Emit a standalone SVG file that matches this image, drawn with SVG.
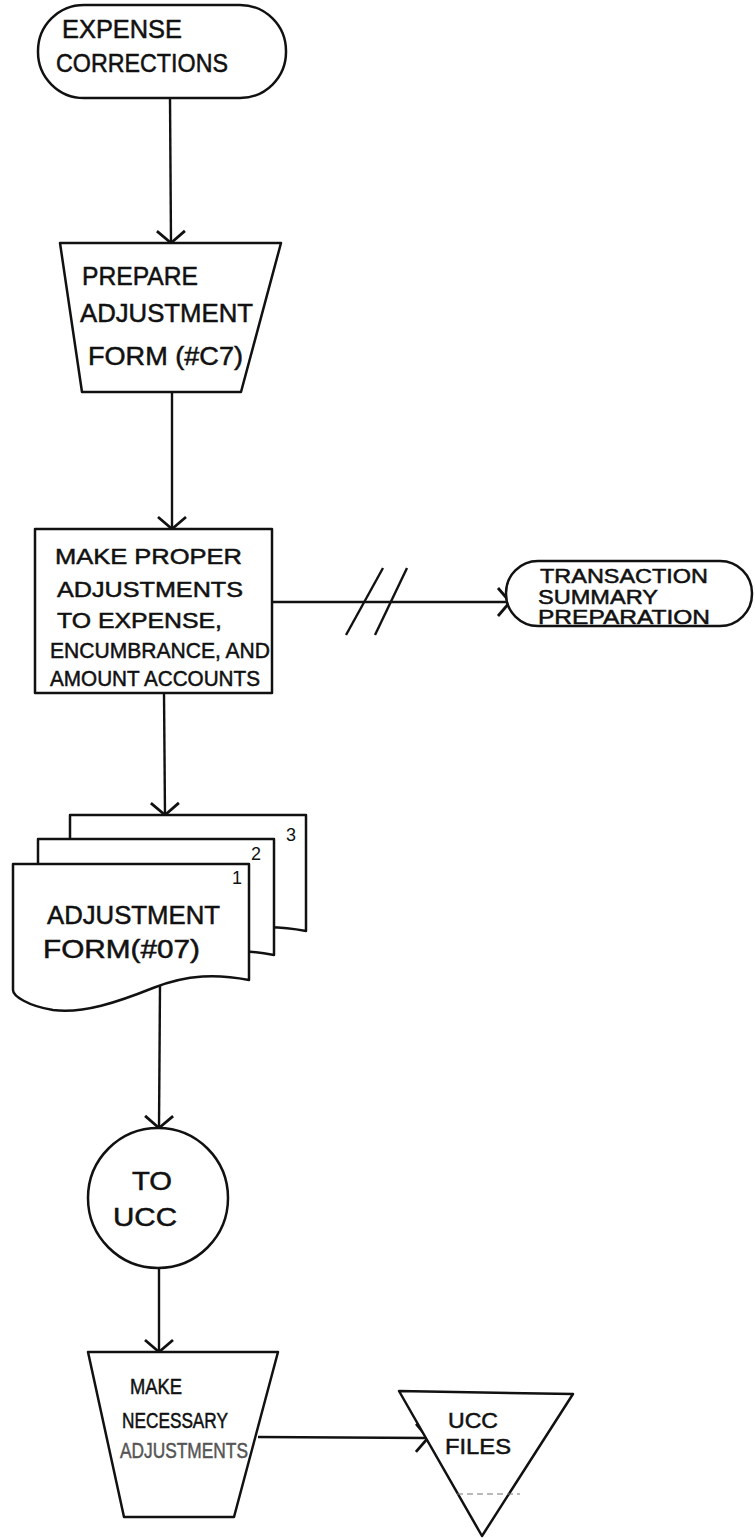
<svg xmlns="http://www.w3.org/2000/svg" width="755" height="1538" viewBox="0 0 755 1538">
  <style>
    .shape { fill: #ffffff; stroke: #111111; stroke-width: 2.5; stroke-linejoin: round; }
    .line { fill: none; stroke: #111111; stroke-width: 2.4; }
    .lbl { font-family: "Liberation Sans", "DejaVu Sans", sans-serif; fill: #111111; stroke: #111111; stroke-width: 0.5; }
    .big { font-size: 25px; }
    .mid { font-size: 22px; }
    .num { font-family: "Liberation Sans", sans-serif; font-size: 18px; fill: #111111; }
    .faint { fill: #555555; stroke: #555555; }
  </style>
  <defs>
    <!-- open "V" arrowhead drawn as two strokes -->
    <marker id="vhead" markerUnits="userSpaceOnUse" markerWidth="32" markerHeight="32" viewBox="-16 -16 32 32" refX="0" refY="0" orient="auto" overflow="visible">
      <path d="M-12,-14 L0,0 L-12,14" fill="none" stroke="#111111" stroke-width="2.8"/>
    </marker>
    <!-- document sheet with wavy lower edge -->
    <path id="sheet" d="M0,0 H236 V116 C205,110 175,110 140,124 C105,138 70,150 40,146 C15,142 0,132 0,126 Z"/>
  </defs>

  <!-- connectors -->
  <g id="connectors">
    <line class="line" x1="170" y1="98" x2="171" y2="243" marker-end="url(#vhead)"/>
    <line class="line" x1="172" y1="392" x2="172" y2="529" marker-end="url(#vhead)"/>
    <line class="line" x1="272" y1="602" x2="510" y2="602" marker-end="url(#vhead)"/>
    <line class="line" x1="346" y1="635" x2="383" y2="568"/>
    <line class="line" x1="375" y1="635" x2="407" y2="568"/>
    <line class="line" x1="164" y1="693" x2="165" y2="815" marker-end="url(#vhead)"/>
    <line class="line" x1="160" y1="986" x2="159" y2="1128" marker-end="url(#vhead)"/>
    <line class="line" x1="159" y1="1268" x2="159" y2="1352" marker-end="url(#vhead)"/>
    <line class="line" x1="258" y1="1437" x2="428" y2="1438" marker-end="url(#vhead)"/>
  </g>

  <!-- start terminal -->
  <g id="expense-corrections">
    <rect class="shape" x="38" y="5" width="248" height="93" rx="46" ry="46"/>
    <text class="lbl big" x="62" y="38" textLength="120" lengthAdjust="spacingAndGlyphs">EXPENSE</text>
    <text class="lbl big" x="56" y="72" textLength="172" lengthAdjust="spacingAndGlyphs">CORRECTIONS</text>
  </g>

  <!-- manual operation -->
  <g id="prepare-adjustment-form">
    <polygon class="shape" points="60,243 281,243 241,392 82,392"/>
    <text class="lbl big" x="82" y="285" textLength="116" lengthAdjust="spacingAndGlyphs">PREPARE</text>
    <text class="lbl big" x="80" y="322" textLength="173" lengthAdjust="spacingAndGlyphs">ADJUSTMENT</text>
    <text class="lbl big" x="88" y="365" textLength="155" lengthAdjust="spacingAndGlyphs">FORM (#C7)</text>
  </g>

  <!-- process -->
  <g id="make-proper-adjustments">
    <rect class="shape" x="35" y="529" width="237" height="164"/>
    <text class="lbl mid" x="55" y="564" textLength="187" lengthAdjust="spacingAndGlyphs">MAKE PROPER</text>
    <text class="lbl mid" x="57" y="597" textLength="186" lengthAdjust="spacingAndGlyphs">ADJUSTMENTS</text>
    <text class="lbl mid" x="57" y="628" textLength="165" lengthAdjust="spacingAndGlyphs">TO EXPENSE,</text>
    <text class="lbl mid" x="50" y="658" textLength="220" lengthAdjust="spacingAndGlyphs">ENCUMBRANCE, AND</text>
    <text class="lbl mid" x="50" y="686" textLength="210" lengthAdjust="spacingAndGlyphs">AMOUNT ACCOUNTS</text>
  </g>

  <!-- off-page terminal -->
  <g id="transaction-summary-preparation">
    <rect class="shape" x="506" y="561" width="246" height="65" rx="32" ry="32"/>
    <text class="lbl" font-size="20" x="540" y="583" textLength="168" lengthAdjust="spacingAndGlyphs">TRANSACTION</text>
    <text class="lbl" font-size="20" x="538" y="604" textLength="120" lengthAdjust="spacingAndGlyphs">SUMMARY</text>
    <text class="lbl" font-size="20" x="538" y="624" textLength="172" lengthAdjust="spacingAndGlyphs">PREPARATION</text>
  </g>

  <!-- three-part form -->
  <g id="adjustment-form-copies">
    <use href="#sheet" class="shape" transform="translate(70,815)"/>
    <use href="#sheet" class="shape" transform="translate(38,839)"/>
    <use href="#sheet" class="shape" transform="translate(13,864)"/>
    <text class="num" x="286" y="841">3</text>
    <text class="num" x="251" y="860">2</text>
    <text class="num" x="232" y="884">1</text>
    <text class="lbl big" x="47" y="924" textLength="173" lengthAdjust="spacingAndGlyphs">ADJUSTMENT</text>
    <text class="lbl big" x="43" y="958" textLength="157" lengthAdjust="spacingAndGlyphs">FORM(#07)</text>
  </g>

  <!-- connector circle -->
  <g id="to-ucc">
    <circle class="shape" cx="158" cy="1198" r="70"/>
    <text class="lbl big" x="132" y="1190" textLength="40" lengthAdjust="spacingAndGlyphs">TO</text>
    <text class="lbl big" x="113" y="1226" textLength="64" lengthAdjust="spacingAndGlyphs">UCC</text>
  </g>

  <!-- manual operation -->
  <g id="make-necessary-adjustments">
    <polygon class="shape" points="88,1352 278,1352 234,1517 124,1517"/>
    <text class="lbl mid" x="130" y="1394" textLength="52" lengthAdjust="spacingAndGlyphs">MAKE</text>
    <text class="lbl mid" x="122" y="1428" textLength="106" lengthAdjust="spacingAndGlyphs">NECESSARY</text>
    <text class="lbl mid faint" x="120" y="1458" textLength="128" lengthAdjust="spacingAndGlyphs">ADJUSTMENTS</text>
  </g>

  <!-- offline storage -->
  <g id="ucc-files">
    <polygon class="shape" points="399,1391 573,1394 482,1536"/>
    <line x1="457" y1="1494" x2="520" y2="1494" stroke="#777777" stroke-width="1.2" stroke-dasharray="6 4"/>
    <text class="lbl mid" x="448" y="1428" textLength="50" lengthAdjust="spacingAndGlyphs">UCC</text>
    <text class="lbl mid" x="445" y="1454" textLength="66" lengthAdjust="spacingAndGlyphs">FILES</text>
  </g>
</svg>
